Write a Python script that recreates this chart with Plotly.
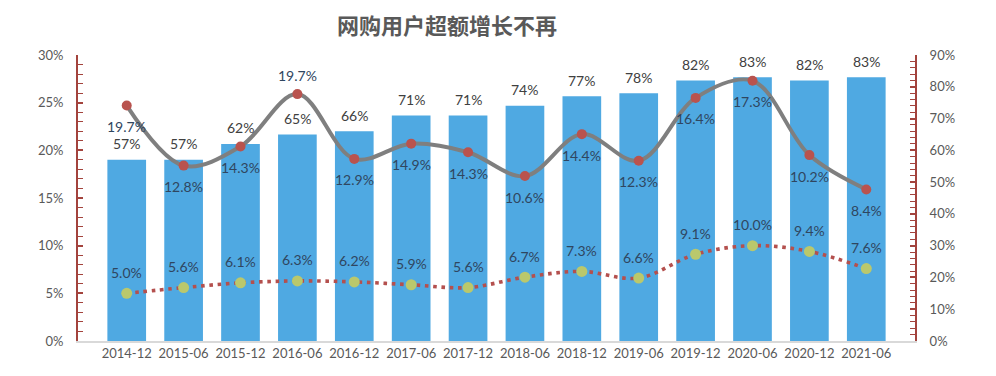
import plotly.graph_objects as go

categories = ["2014-12", "2015-06", "2015-12", "2016-06", "2016-12", "2017-06", "2017-12",
              "2018-06", "2018-12", "2019-06", "2019-12", "2020-06", "2020-12", "2021-06"]
# bars: share of users (right axis, %)
user_share = [57, 57, 62, 65, 66, 71, 71, 74, 77, 78, 82, 83, 82, 83]
# grey smooth line: plotted position (left axis, %) and its labelled growth rate
growth_line_pos = [24.7, 18.4, 20.4, 25.9, 19.1, 20.7, 19.8, 17.3, 21.7, 18.9, 25.5, 27.3, 19.5, 15.9]
growth_labels = [19.7, 12.8, 14.3, 19.7, 12.9, 14.9, 14.3, 10.6, 14.4, 12.3, 16.4, 17.3, 10.2, 8.4]
# red dotted line (left axis, %)
excess_growth = [5.0, 5.6, 6.1, 6.3, 6.2, 5.9, 5.6, 6.7, 7.3, 6.6, 9.1, 10.0, 9.4, 7.6]

FONT = "Lato"
AXIS_RED = "#A3433D"
TICK_GREY = "#595959"
LABEL_BLUE = "#2F4660"

fig = go.Figure()

fig.add_trace(go.Bar(
    x=categories, y=[v / 100 for v in user_share], yaxis="y",
    marker=dict(color="#4FA9E2", line=dict(width=0)), hoverinfo="skip",
))

fig.add_trace(go.Scatter(
    x=categories, y=[v / 100 for v in excess_growth], yaxis="y2",
    mode="lines+markers",
    line=dict(color="#B4504E", width=3.6, dash="3.6px,4.7px", shape="spline", smoothing=1.0),
    marker=dict(color="#BAC86C", size=11, line=dict(width=0)), hoverinfo="skip",
))

fig.add_trace(go.Scatter(
    x=categories, y=[v / 100 for v in growth_line_pos], yaxis="y2",
    mode="lines+markers",
    line=dict(color="#7F7F7F", width=4, shape="spline", smoothing=1.0),
    marker=dict(color="#B9534E", size=10, line=dict(width=0)), hoverinfo="skip",
))

annotations = []
for c, v in zip(categories, user_share):
    annotations.append(dict(x=c, y=v / 100, xref="x", yref="y", text=f"{v}%",
                            showarrow=False, yshift=16,
                            font=dict(family=FONT, size=14, color="#404040")))
for i, (c, p, lab) in enumerate(zip(categories, growth_line_pos, growth_labels)):
    shift = 19 if c == "2016-06" else -21
    annotations.append(dict(x=c, y=p / 100, xref="x", yref="y2", text=f"{lab:.1f}%",
                            showarrow=False, yshift=shift,
                            font=dict(family=FONT, size=14, color=LABEL_BLUE)))
for c, v in zip(categories, excess_growth):
    annotations.append(dict(x=c, y=v / 100, xref="x", yref="y2", text=f"{v:.1f}%",
                            showarrow=False, yshift=21,
                            font=dict(family=FONT, size=14, color=LABEL_BLUE)))
annotations.append(dict(x=0.4407, y=1.11, xref="paper", yref="paper", text="<b>网购用户超额增长不再</b>",
                        showarrow=False, xanchor="center", yanchor="middle",
                        font=dict(family="Noto Sans CJK SC", size=22, color=TICK_GREY)))

fig.update_layout(
    width=988, height=368,
    margin=dict(l=70, r=81, t=47, b=35),
    paper_bgcolor="white", plot_bgcolor="white",
    showlegend=False, bargap=0.32,
    font=dict(family=FONT, size=13, color=TICK_GREY),
    xaxis=dict(type="category", showline=True, linecolor="#D9D9D9", linewidth=1.5,
               ticks="", showgrid=False, tickfont=dict(family=FONT, size=13, color=TICK_GREY)),
    yaxis=dict(side="right", range=[0, 0.9], dtick=0.1, tickformat=".0%", showgrid=False,
               zeroline=False, showline=True, linecolor=AXIS_RED, linewidth=2,
               ticks="inside", ticklen=5, tickcolor=AXIS_RED, tickwidth=1.5,
               minor=dict(dtick=0.02, ticks="inside", ticklen=5, tickcolor=AXIS_RED, tickwidth=1.2),
               ticklabelstandoff=10,
               tickfont=dict(family=FONT, size=13, color=TICK_GREY)),
    yaxis2=dict(side="left", overlaying="y", range=[0, 0.3], dtick=0.05, tickformat=".0%",
                showgrid=False, zeroline=False,
                showline=True, linecolor=AXIS_RED, linewidth=2,
                ticks="inside", ticklen=5, tickcolor=AXIS_RED, tickwidth=1.5,
                minor=dict(dtick=0.01, ticks="inside", ticklen=5, tickcolor=AXIS_RED, tickwidth=1.2),
                ticklabelstandoff=10,
                tickfont=dict(family=FONT, size=13, color=TICK_GREY)),
    annotations=annotations,
)

fig.write_html("out.html")
